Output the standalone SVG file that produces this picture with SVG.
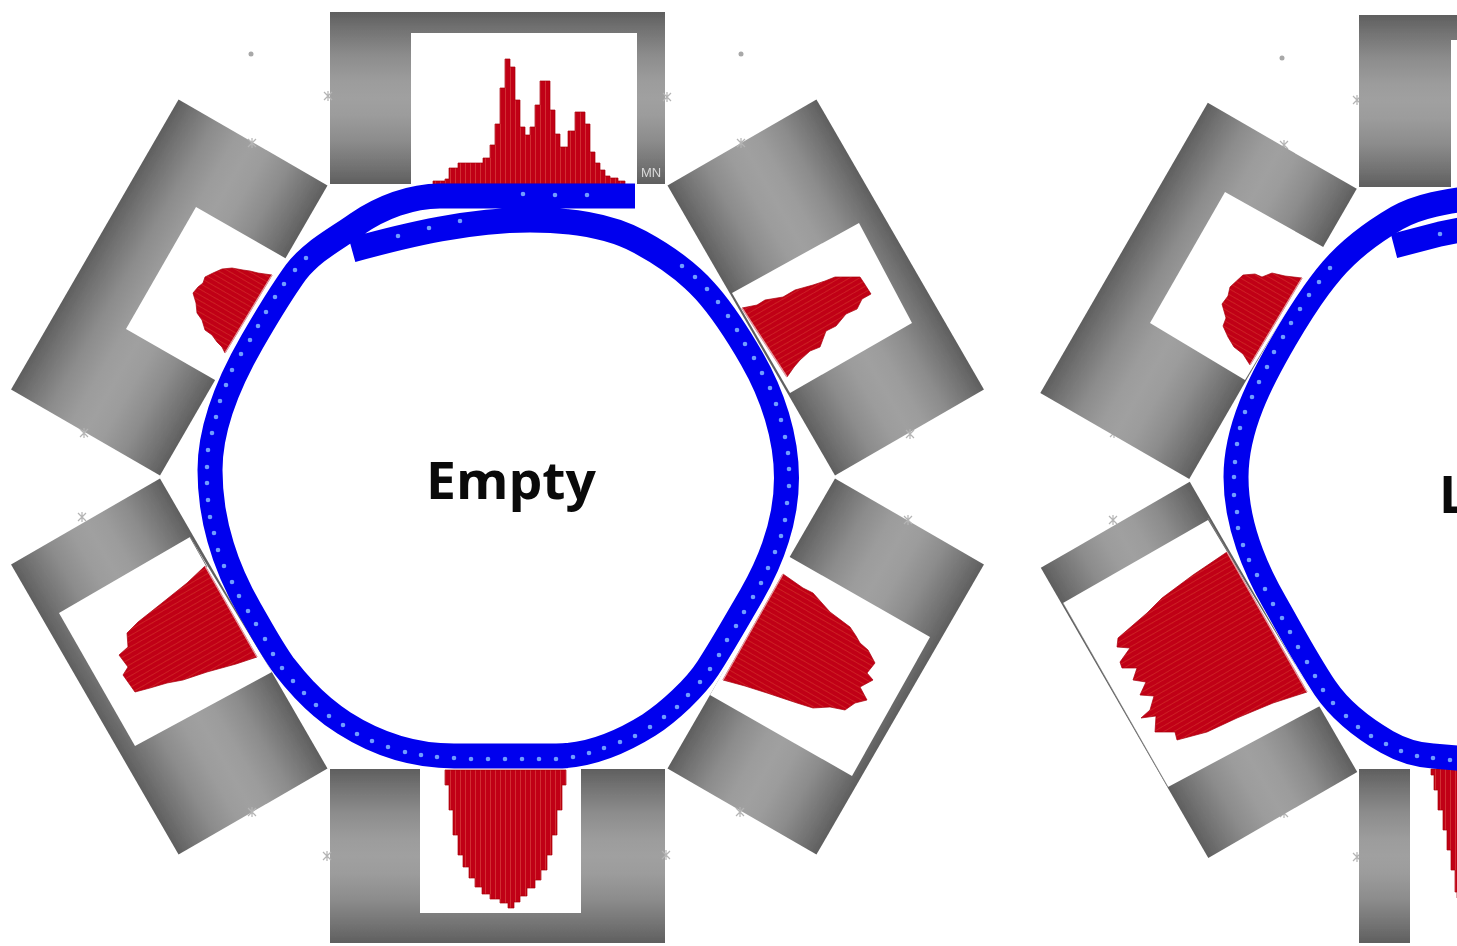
<svg xmlns="http://www.w3.org/2000/svg" width="1457" height="946" viewBox="0 0 1457 946">
<style>
.coil{fill:url(#steel)}
.win{fill:#fff}
.hv{fill:url(#barsV);stroke:#a80010;stroke-width:.7}
.hp{fill:url(#barsP);stroke:#a80010;stroke-width:.7;stroke-linejoin:round}
.hm{fill:url(#barsM);stroke:#a80010;stroke-width:.7;stroke-linejoin:round}
.base{stroke:#e39aa0;stroke-width:1.4;fill:none}
.edge{stroke:#7c7c7c;stroke-width:1;fill:none}
.ring{fill:none;stroke:#0000ee;stroke-width:25;stroke-linejoin:round}
.dots{fill:none;stroke:#6f9dff;stroke-width:4.6;stroke-linecap:round}
.mark{fill:none;stroke:#b4b4b4;stroke-width:1.2}
.spot{fill:#a8a8a8}
.lab{font-family:"Open Sans","Noto Sans",sans-serif;font-weight:700;font-size:52px;fill:#0a0a0a}
.tiny{font-family:"Liberation Sans",sans-serif;font-size:13px;fill:#d8d8d8}
</style>
<defs>
<linearGradient id="steel" x1="0" y1="0" x2="0" y2="1"><stop offset="0" stop-color="#5f5f5f"/><stop offset=".1" stop-color="#727272"/><stop offset=".25" stop-color="#8c8c8c"/><stop offset=".4" stop-color="#9c9c9c"/><stop offset=".5" stop-color="#a0a0a0"/><stop offset=".6" stop-color="#9c9c9c"/><stop offset=".75" stop-color="#8c8c8c"/><stop offset=".9" stop-color="#727272"/><stop offset="1" stop-color="#5f5f5f"/></linearGradient>
<pattern id="barsV" width="5" height="5" patternUnits="userSpaceOnUse"><rect width="5" height="5" fill="#c00012"/><rect width=".8" height="5" fill="#d63a3a"/></pattern>
<pattern id="barsP" width="5" height="5" patternUnits="userSpaceOnUse" patternTransform="rotate(30)"><rect width="5" height="5" fill="#c00012"/><rect width="5" height=".7" fill="#d22a2e"/></pattern>
<pattern id="barsM" width="5" height="5" patternUnits="userSpaceOnUse" patternTransform="rotate(-30)"><rect width="5" height="5" fill="#c00012"/><rect width="5" height=".7" fill="#d22a2e"/></pattern>
<path id="x" class="mark" d="M-4-4L4 4M4-4L-4 4M0-5V5"/>
<filter id="soft" x="-5%" y="-5%" width="110%" height="110%"><feGaussianBlur stdDeviation=".55"/></filter>
</defs>
<rect width="1457" height="946" fill="#fff"/>

<g id="empty-device" filter="url(#soft)">
<g id="coils-empty">
<rect class="coil" x="330" y="12" width="335" height="172"/>
<rect class="coil" x="330" y="769" width="335" height="174"/>
<rect class="coil" x="330" y="12" width="335" height="172" transform="rotate(-60 497.5 477)"/>
<rect class="coil" x="330" y="12" width="335" height="172" transform="rotate(60 497.5 477)"/>
<rect class="coil" x="330" y="12" width="335" height="172" transform="rotate(-120 497.5 477)"/>
<rect class="coil" x="330" y="12" width="335" height="172" transform="rotate(120 497.5 477)"/>
</g>
<g id="windows-empty">
<rect class="win" x="411" y="33" width="226" height="151"/>
<rect class="win" x="420" y="769" width="161" height="144"/>
<polygon class="win" points="196,207 292,262 222,384 126,329"/>
<polygon class="win" points="859,223 912,323 790,393 732,293"/>
<polygon class="win" points="59,613 190,537 272,672 135,746"/>
<polygon class="win" points="788,556 930,637 852,776 710,695"/>
<line class="edge" x1="190" y1="537" x2="207" y2="567"/>
</g>
<g id="hist-empty">
<path class="hv" d="M433 184V181H445V179H449V168H458V163H483V158H490V145H495V124H500V88H505V59H510V67H515V100H520V127H525V135H530V127H535V105H540V81H550V110H555V134H560V147H568V131H575V112H585V124H590V152H595V163H600V170H605V176H610V178H618V181H625V184Z"/>
<path class="hv" d="M445 770H566V785H562V810H557V835H552V855H547V870H541V880H535V888H527V896H520V902H514V908H508V903H500V899H490V894H482V887H475V878H469V867H463V855H458V835H453V810H449V785H445Z"/>
<polygon class="hp" points="272,275 258,273 250,271 243,270 232,268 222,269 213,273 205,277 203,283 198,287 193,293 196,303 197,313 202,320 205,330 212,335 217,342 222,347 225,353"/>
<polygon class="hm" points="742,308 757,305 765,300 783,297 795,290 813,285 825,281 835,277 860,277 864,283 871,294 862,299 857,309 846,314 836,326 826,331 820,347 810,351 800,360 794,367 787,377"/>
<polygon class="hm" points="205,566 187,583 162,603 138,622 127,633 128,647 119,655 128,667 123,675 135,692 150,688 167,683 183,680 207,672 236,664 257,657"/>
<polygon class="hp" points="783,574 803,588 813,593 830,612 850,627 856,636 860,643 868,650 875,663 867,673 873,680 860,687 867,700 855,703 845,710 830,707 813,708 797,703 782,698 767,693 745,686 723,680"/>
<path class="base" d="M272 275L225 353M742 308L787 377M205 566L257 657M783 574L723 680"/>
</g>
<g id="ring-empty">
<path class="ring" d="M635 196H440C411 196 381 207.5 357 224C336 239 312 251 296 272C280 294 265.500 318.600 252 342C229.500 381 210 425 210 470C210 519 225.500 567.600 250 610C261 629 271 648 284 666C301 688 320 708 344 723C377 744 415 756 454 756H556C589 756 621 742.500 649 725C669 712 695 688 708 668C723 645 737 620 751 596C771.500 560.500 786.500 519 786.500 478C786.500 437 772.500 394.500 752 359C738.500 335.600 723 311 705 291C687 271 664 255 640 242C607 224 568 220 530 220C470 220 410 234 352 250"/>
<path class="dots" d="M306 258h0M295 270h0M284 284h0M275 297h0M266 312h0M258 326h0M250 340h0M241 354h0M232 370h0M226 385h0M220 401h0M216 417h0M212 433h0M208 450h0M207 467h0M207 483h0M208 500h0M210 517h0M214 533h0M218 550h0M224 566h0M232 582h0M239 596h0M248 611h0M256 624h0M265 639h0M273 654h0M282 668h0M293 681h0M304 693h0M316 705h0M329 716h0M343 725h0M357 734h0M372 741h0M388 747h0M405 752h0M421 755h0M437 757h0M454 758h0M471 759h0M488 759h0M505 759h0M522 759h0M539 759h0M556 759h0M573 757h0M589 753h0M604 748h0M620 742h0M635 736h0M650 727h0M664 717h0M677 707h0M688 695h0M700 682h0M710 669h0M719 655h0M727 640h0M736 626h0M744 612h0M753 597h0M761 583h0M768 568h0M775 552h0M781 536h0M785 520h0M787 503h0M789 486h0M789 469h0M788 453h0M785 437h0M781 420h0M776 404h0M770 388h0M762 373h0M754 358h0M745 344h0M737 330h0M728 316h0M718 302h0M707 289h0M695 277h0M682 266h0M523 194h0M555 195h0M587 195h0M398 236h0M429 228h0M460 221h0"/>
</g>
<text class="tiny" x="641" y="177">MN</text>
</g>
<text class="lab" x="426" y="499" textLength="170" lengthAdjust="spacingAndGlyphs">Empty</text>

<g id="marks">
<circle class="spot" cx="251" cy="54" r="2.5"/><circle class="spot" cx="741" cy="54" r="2.5"/><circle class="spot" cx="1282" cy="58" r="2.5"/>
<use href="#x" x="328" y="96"/><use href="#x" x="667" y="97"/><use href="#x" x="327" y="856"/><use href="#x" x="666" y="855"/>
<use href="#x" x="252" y="143"/><use href="#x" x="741" y="143"/><use href="#x" x="84" y="433"/><use href="#x" x="910" y="434"/>
<use href="#x" x="82" y="517"/><use href="#x" x="908" y="520"/><use href="#x" x="252" y="812"/><use href="#x" x="740" y="812"/>
<use href="#x" x="1284" y="145"/><use href="#x" x="1114" y="433"/><use href="#x" x="1113" y="520"/><use href="#x" x="1284" y="813"/><use href="#x" x="1357" y="100"/><use href="#x" x="1357" y="857"/>
</g>

<g id="second-device" filter="url(#soft)">
<g id="coils-second">
<rect class="coil" x="1359" y="15" width="335" height="172"/>
<rect class="coil" x="1359" y="769" width="335" height="174"/>
<rect class="coil" x="1359" y="15" width="335" height="172" transform="rotate(-60 1527 480)"/>
<rect class="coil" x="1359" y="15" width="335" height="172" transform="rotate(-120 1527 480)"/>
</g>
<g id="windows-second">
<rect class="win" x="1451" y="40" width="20" height="147"/>
<rect class="win" x="1410" y="769" width="60" height="177"/>
<polygon class="win" points="1225,192 1325,248 1245,380 1150,323"/>
<polygon class="win" points="1063,603 1208,520 1320,706 1168,787"/>
<line class="edge" x1="1063" y1="603" x2="1168" y2="787" stroke-opacity=".6"/>
<line class="edge" x1="1208" y1="518" x2="1228" y2="552"/>
</g>
<g id="hist-second">
<polygon class="hp" points="1243,275 1255,274 1262,277 1272,273 1285,276 1302,278 1268,335 1250,365 1243,354 1234,347 1228,337 1223,326 1226,318 1222,304 1228,296 1230,287"/>
<polygon class="hm" points="1227,552 1193,575 1162,598 1147,613 1118,638 1117,647 1130,648 1120,662 1122,668 1137,668 1133,680 1146,682 1140,695 1154,696 1150,710 1141,718 1156,716 1155,732 1175,732 1177,740 1207,732 1237,718 1273,703 1307,692"/>
<path class="hv" d="M1431 769H1470V898H1457V892H1455V870H1451V850H1447V830H1443V810H1438V790H1434V775H1431Z"/>
<path class="base" d="M1302 278L1250 365M1227 552L1307 692"/>
</g>
<g id="ring-second">
<path class="ring" d="M1480 197C1451 201 1422 204 1397 218C1373 232 1350 249 1332 270C1314 291 1299 315 1285 339C1260.500 381 1236 428 1236 477C1236 521 1253 565 1275 603C1291.500 632 1307 661 1325 688C1340 710 1363.500 728.500 1387 742C1401 750 1417 755 1433 756L1480 760"/>
<path class="ring" d="M1480 226L1440 234L1394 246" stroke-width="22"/>
<path class="dots" d="M1330 268h0M1319 282h0M1309 295h0M1300 309h0M1291 323h0M1283 337h0M1274 352h0M1267 367h0M1259 382h0M1252 397h0M1245 412h0M1240 428h0M1237 444h0M1235 462h0M1234 477h0M1234 495h0M1237 512h0M1238 528h0M1243 545h0M1249 560h0M1257 575h0M1265 589h0M1273 604h0M1282 618h0M1290 632h0M1298 647h0M1307 662h0M1315 676h0M1323 690h0M1333 703h0M1346 716h0M1358 727h0M1371 736h0M1386 744h0M1401 751h0M1417 756h0M1433 758h0M1450 760h0M1440 234h0"/>
</g>
</g>
<text class="lab" x="1439" y="513">L</text>
</svg>
